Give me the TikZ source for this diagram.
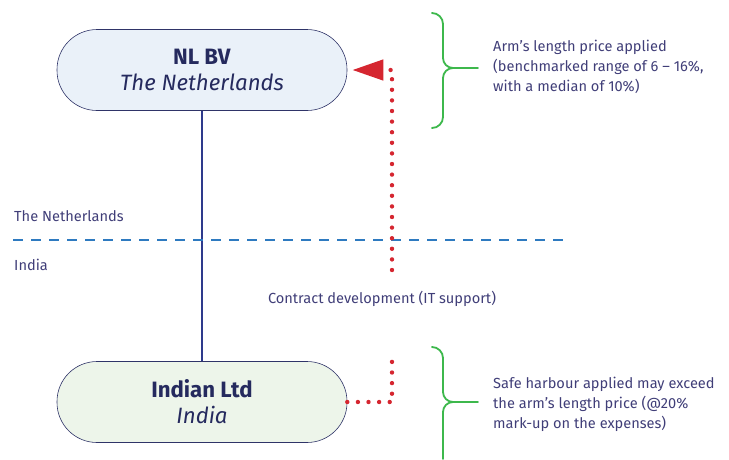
\documentclass[tikz,border=0pt]{standalone}
\usepackage{fontspec}
\setmainfont{Fira Sans}
\usepackage{tikz}
\usetikzlibrary{arrows.meta, positioning, calc}
\definecolor{navyline}{HTML}{2E3A8C}
\definecolor{navytext}{HTML}{252A5E}
\definecolor{labeltext}{HTML}{403E78}
\definecolor{borderblue}{HTML}{2F3468}
\definecolor{dashblue}{HTML}{2E7AC0}
\definecolor{dotred}{HTML}{D52630}
\definecolor{bracegreen}{HTML}{3DB84C}
\definecolor{nlfill}{HTML}{EAF1F9}
\definecolor{infill}{HTML}{EDF5EA}

\tikzset{
    entity/.style={draw=borderblue, line width=0.6pt, rounded corners=40pt,
        minimum width=290pt, minimum height=81pt, align=center,
        text=navytext, font=\fontsize{22.2}{26}\selectfont},
    note/.style={text=labeltext, font=\fontsize{14.6}{20}\selectfont, align=left, anchor=west, inner sep=0pt},
    reddots/.style={dotred, line width=4.4pt, line cap=round, dash pattern=on 0pt off 10.6pt},
    greenbrace/.style={bracegreen, line width=1.8pt, line cap=round}
}

\begin{document}
\begin{tikzpicture}[x=1pt, y=-1pt]
    \useasboundingbox (0,0) rectangle (729,459);

    % ===== Entities =====
    \node[entity, fill=nlfill] (nlbv) at (202,70) {\textbf{NL BV}\\\textit{The Netherlands}};
    \node[entity, fill=infill] (indltd) at (202,402) {\textbf{Indian Ltd}\\\textit{India}};
    \draw[navyline, line width=2pt] (nlbv.south) -- (indltd.north);

    % ===== Border =====
    \draw[dashblue, line width=1.8pt, dash pattern=on 10pt off 8pt] (13,240) -- (563,240);
    \node[note, anchor=base west] (nllabel) at (14,221) {The Netherlands};
    \node[note, anchor=base west] (inlabel) at (14,270) {India};

    % ===== Transaction =====
    \coordinate (dotsup) at (392,270);
    \coordinate (dotslow) at (392,352);
    \draw[reddots] (indltd.east) -| (dotslow);
    \draw[reddots, -{Triangle[length=31pt, width=20pt]}, shorten >=5pt] (dotsup) |- (nlbv.east);
    \node[note, anchor=base] (contract) at (382,303) {Contract development (IT support)};

    % ===== Braces =====
    \draw[greenbrace] (432,13) to[out=0, in=90] (443,24) -- (443,58)
        to[out=-90, in=180] (453,68) -- (478,68);
    \draw[greenbrace] (432,128) to[out=0, in=-90] (443,117) -- (443,78)
        to[out=90, in=180] (453,68);
    \draw[greenbrace] (432,347) to[out=0, in=90] (443,358) -- (443,392)
        to[out=-90, in=180] (453,402) -- (478,402);
    \draw[greenbrace] (443,459) -- (443,412) to[out=90, in=180] (453,402);

    % Notes
    \node[note] (armnote) at (493,67) {Arm’s length price applied\\(benchmarked range of 6 – 16\%,\\with a median of 10\%)};
    \node[note] (safenote) at (493,404) {Safe harbour applied may exceed\\the arm’s length price (@20\%\\mark-up on the expenses)};
\end{tikzpicture}
\end{document}
